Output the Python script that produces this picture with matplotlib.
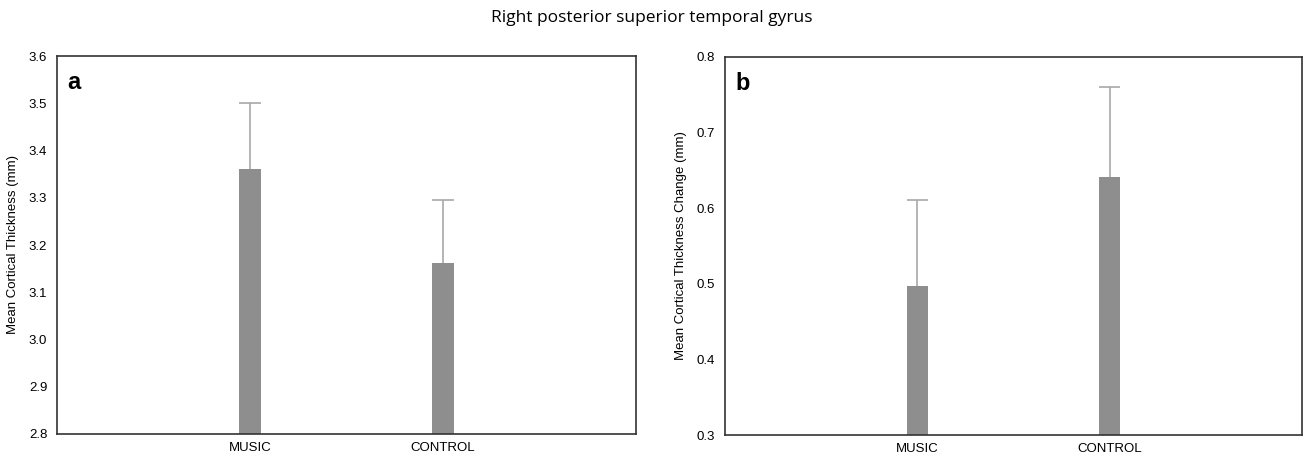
import matplotlib.pyplot as plt

plt.rcParams['font.family'] = ['Liberation Sans', 'DejaVu Sans']

groups = ['MUSIC', 'CONTROL']
thickness = [3.36, 3.162]
thickness_err = [0.14, 0.134]
change = [0.497, 0.641]
change_err = [0.114, 0.119]

BAR_COLOR = '#8e8e8e'
ERR_COLOR = '#a8a8a8'
BAR_W = 0.11

fig = plt.figure(figsize=(13.04, 4.55), dpi=100)
ax_a = fig.add_axes([57 / 1304, 1 - 434 / 455, 579 / 1304, 378 / 455])
ax_b = fig.add_axes([725 / 1304, 1 - 435 / 455, 577 / 1304, 378 / 455])

panels = [
    (ax_a, thickness, thickness_err, (2.8, 3.6), [2.8, 2.9, 3.0, 3.1, 3.2, 3.3, 3.4, 3.5, 3.6],
     'Mean Cortical Thickness (mm)', 'a'),
    (ax_b, change, change_err, (0.3, 0.8), [0.3, 0.4, 0.5, 0.6, 0.7, 0.8],
     'Mean Cortical Thickness Change (mm)', 'b'),
]

for ax, vals, errs, ylim, yticks, ylabel, tag in panels:
    x = [1, 2]
    lo = ylim[0]
    tops = [v + e for v, e in zip(vals, errs)]
    ax.bar(x, [v - lo for v in vals], bottom=lo, width=BAR_W, color=BAR_COLOR, zorder=2)
    # upper error bars only
    ax.vlines(x, vals, tops, color=ERR_COLOR, linewidth=1.2, zorder=1)
    ax.hlines(tops, [i - BAR_W / 2 for i in x], [i + BAR_W / 2 for i in x],
              color=ERR_COLOR, linewidth=1.2, zorder=1)
    ax.set_xlim(0, 3)
    ax.set_ylim(*ylim)
    ax.set_xticks(x)
    ax.set_xticklabels(groups, fontsize=9.5)
    ax.set_yticks(yticks)
    ax.set_yticklabels([f'{t:.1f}' for t in yticks], fontsize=9.5)
    ax.tick_params(axis='y', length=0, pad=7)
    ax.tick_params(axis='x', length=0, pad=6)
    ax.set_ylabel(ylabel, fontsize=9.5, labelpad=7)
    for s in ax.spines.values():
        s.set_linewidth(1.2)
        s.set_color('#333333')
    ax.text(0.018, 0.96, tag, transform=ax.transAxes, fontsize=17, fontweight='bold',
            va='top', ha='left')

fig.text(0.5, 1 - 18 / 455, 'Right posterior superior temporal gyrus', ha='center', va='center',
         fontsize=12.5, family=['Open Sans', 'DejaVu Sans'])

fig.savefig('out.png', dpi=100)
